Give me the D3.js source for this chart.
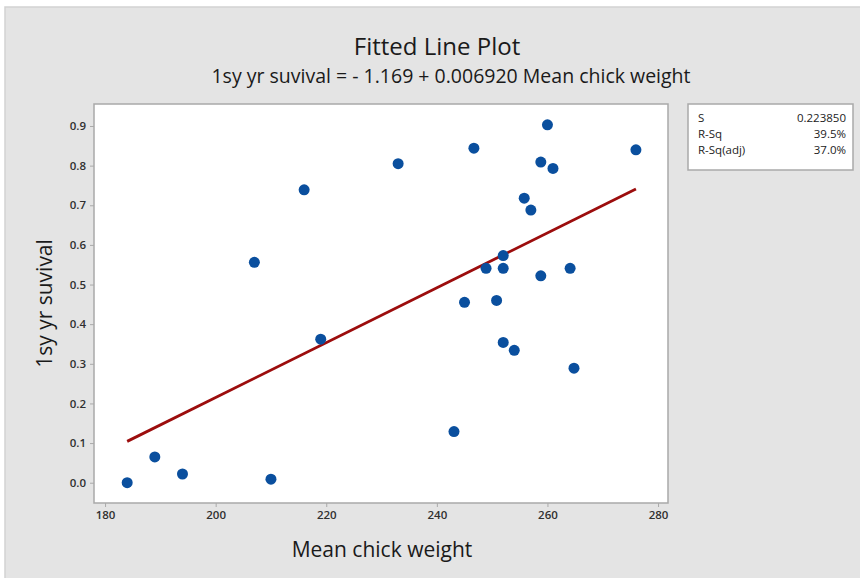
<!DOCTYPE html>
<html>
<head>
<meta charset="utf-8">
<script src="https://cdn.jsdelivr.net/npm/d3@7"></script>
<style>
  html, body { margin: 0; padding: 0; background: #ffffff; }
  svg { display: block; }
</style>
</head>
<body>
<svg id="chart" width="860" height="578"></svg>
<script>
// ---- data ----
const chickWeight = [184, 189, 194, 210, 207, 216, 219, 233, 260, 246.7, 258.8, 261, 276,
  255.8, 257, 252, 248.9, 252, 258.8, 264.1, 245, 250.8, 252, 254, 264.8, 243.1];
const survival = [0.00, 0.065, 0.022, 0.009, 0.556, 0.739, 0.362, 0.805, 0.903, 0.844, 0.809, 0.793, 0.840,
  0.718, 0.688, 0.573, 0.541, 0.541, 0.522, 0.541, 0.455, 0.460, 0.354, 0.334, 0.289, 0.129];
const xTicks = [180, 200, 220, 240, 260, 280];
const yTicks = [0.0, 0.1, 0.2, 0.3, 0.4, 0.5, 0.6, 0.7, 0.8, 0.9];
const fitIntercept = -1.169;
const fitSlope = 0.006920;
const statLabels = ["S", "R-Sq", "R-Sq(adj)"];
const statValues = ["0.223850", "39.5%", "37.0%"];

// ---- layout ----
const svg = d3.select("#chart");
const plot = { left: 94, top: 104, right: 668, bottom: 503 };
const x = d3.scaleLinear().domain([178.0, 281.8]).range([plot.left, plot.right]);
const y = d3.scaleLinear().domain([-0.0512, 0.9555]).range([plot.bottom, plot.top]);
const FONT = "'Open Sans', 'Noto Sans', sans-serif";

// panel background
svg.append("rect").attr("x", 5).attr("y", 7).attr("width", 880).attr("height", 600)
  .attr("fill", "#e4e4e4").attr("stroke", "#d2d2d2").attr("stroke-width", 1.5);

// plot area
svg.append("rect").attr("x", plot.left).attr("y", plot.top)
  .attr("width", plot.right - plot.left).attr("height", plot.bottom - plot.top)
  .attr("fill", "#ffffff").attr("stroke", "#a9a9a9").attr("stroke-width", 1.5);

// axes
const xAxis = svg.append("g").attr("transform", `translate(0,${plot.bottom})`)
  .call(d3.axisBottom(x).tickValues(xTicks).tickFormat(d3.format("d")).tickSize(4).tickPadding(4));
const yAxis = svg.append("g").attr("transform", `translate(${plot.left},0)`)
  .call(d3.axisLeft(y).tickValues(yTicks).tickFormat(d3.format(".1f")).tickSize(4).tickPadding(4));
[xAxis, yAxis].forEach(g => {
  g.select(".domain").remove();
  g.selectAll(".tick line").attr("stroke", "#a9a9a9").attr("stroke-width", 1);
  g.selectAll(".tick text").attr("fill", "#303030").attr("font-family", FONT)
    .attr("font-size", 11.5).attr("font-weight", 600);
});

// fitted line
const xExt = d3.extent(chickWeight);
svg.append("path")
  .datum(xExt)
  .attr("d", d3.line().x(d => x(d)).y(d => y(fitIntercept + fitSlope * d)))
  .attr("stroke", "#9c0d0d").attr("stroke-width", 2.8).attr("fill", "none");

// points
svg.append("g").selectAll("circle")
  .data(chickWeight.map((w, i) => [w, survival[i]]))
  .join("circle")
  .attr("cx", d => x(d[0])).attr("cy", d => y(d[1])).attr("r", 5.5)
  .attr("fill", "#0a4f9e");

// titles
svg.append("text").attr("x", 437).attr("y", 55).attr("text-anchor", "middle")
  .attr("font-family", FONT).attr("font-size", 24).attr("fill", "#1a1a1a")
  .text("Fitted Line Plot");
svg.append("text").attr("x", 451).attr("y", 83).attr("text-anchor", "middle")
  .attr("font-family", FONT).attr("font-size", 19.5).attr("fill", "#1a1a1a")
  .text("1sy yr suvival = - 1.169 + 0.006920 Mean chick weight");

// axis titles
svg.append("text").attr("x", 382).attr("y", 557).attr("text-anchor", "middle")
  .attr("font-family", FONT).attr("font-size", 21).attr("fill", "#1a1a1a")
  .text("Mean chick weight");
svg.append("text").attr("transform", `translate(52,${(plot.top + plot.bottom) / 2}) rotate(-90)`)
  .attr("text-anchor", "middle")
  .attr("font-family", FONT).attr("font-size", 21).attr("fill", "#1a1a1a")
  .text("1sy yr suvival");

// stats box
const box = { x: 688, y: 104, w: 165, h: 66 };
svg.append("rect").attr("x", box.x).attr("y", box.y).attr("width", box.w).attr("height", box.h)
  .attr("fill", "#ffffff").attr("stroke", "#a9a9a9").attr("stroke-width", 1.5);
const rows = svg.append("g");
statLabels.forEach((lab, i) => {
  const yy = box.y + 18 + i * 16;
  rows.append("text").attr("x", box.x + 10).attr("y", yy)
    .attr("font-family", FONT).attr("font-size", 11.5).attr("fill", "#222").text(lab);
  rows.append("text").attr("x", box.x + box.w - 7).attr("y", yy).attr("text-anchor", "end")
    .attr("font-family", FONT).attr("font-size", 11.5).attr("fill", "#222").text(statValues[i]);
});
</script>
</body>
</html>
